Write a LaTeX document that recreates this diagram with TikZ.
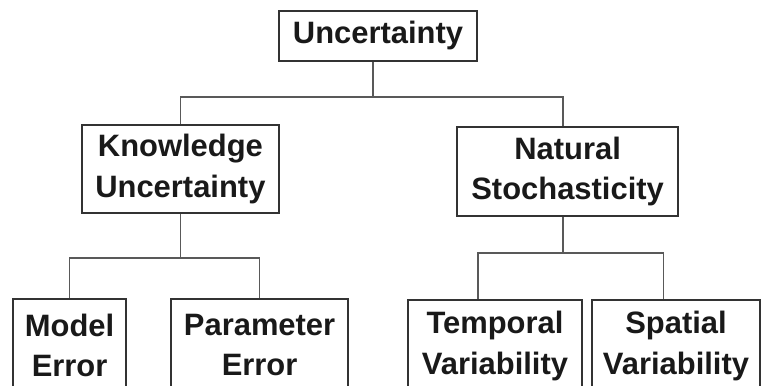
\documentclass[tikz,border=0pt]{standalone}
\usepackage{fontspec}
\setmainfont{Liberation Sans}
\usetikzlibrary{positioning,calc}
\tikzset{
    box/.style = {
        draw=black!80,
        shape=rectangle,
        line width=1.3pt,
        inner sep=0pt,
        align=center,
        text=black!90,
        font=\fontsize{22}{28.5}\selectfont\bfseries
    },
    leaf/.style = {
        box,
        minimum height=2.3cm
    },
    link/.style = {
        draw=black!65,
        line width=1.1pt
    },
}

\begin{document}
\begin{tikzpicture}
            \useasboundingbox (0,0) rectangle (19.025,-9.65);
            \clip (0,0) rectangle (19.025,-9.65);

            \node[box, minimum width=4.95cm, minimum height=1.25cm] (unc) at (9.45,-0.9) {Uncertainty};
            \node[box, minimum width=4.93cm, minimum height=2.2cm] (know) at (4.51,-4.225) {Knowledge\\Uncertainty};
            \node[box, minimum width=5.53cm, minimum height=2.23cm] (nat) at (14.19,-4.29) {Natural\\Stochasticity};

            \node[leaf, minimum width=2.83cm] (model) at (1.74,-8.625) {Model\\Error};
            \node[leaf, minimum width=4.43cm] (param) at (6.49,-8.625) {Parameter\\Error};
            \node[leaf, minimum width=4.35cm] (temp) at (12.375,-8.65) {Temporal\\Variability};
            \node[leaf, minimum width=4.2cm] (spat) at (16.9,-8.65) {Spatial\\Variability};

            \coordinate (jt) at ($(unc.south)+(-0.125,-0.875)$);
            \coordinate (jl) at ($(know.south)+(0,-1.1)$);
            \coordinate (jr) at ($(nat.south)+(-0.115,-0.9)$);

            \path[link] (unc.south -| jt) -- (jt);
            \path[link] (know.north) |- (jt) -| (nat.north -| jr);

            \path[link] (know.south) -- (jl);
            \path[link] (model.north) |- (jl) -| (param.north);

            \path[link] (nat.south -| jr) -- (jr);
            \path[link] (temp.110) |- (jr) -| (spat.105);
        \end{tikzpicture}
\end{document}
